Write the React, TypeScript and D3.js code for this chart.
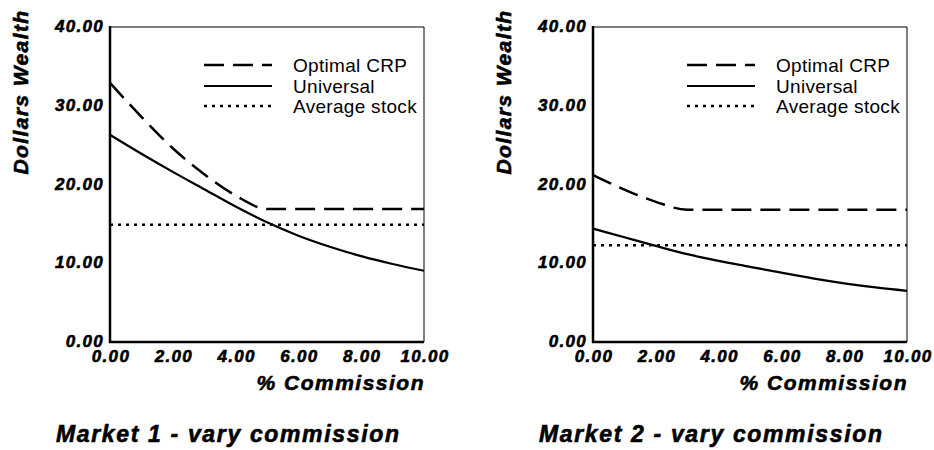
import React from 'react';
import * as d3 from 'd3';

const commission = [0, 1, 2, 3, 4, 5, 6, 7, 8, 9, 10];

// Market 1
const optimalCrp1 = [32.9, 28.6, 24.6, 21.3, 18.6, 16.9, 16.9, 16.9, 16.9, 16.9, 16.9];
const universal1 = [26.3, 23.9, 21.6, 19.4, 17.2, 15.2, 13.5, 12.1, 10.9, 9.9, 9.05];
const avgStock1 = [14.9, 14.9, 14.9, 14.9, 14.9, 14.9, 14.9, 14.9, 14.9, 14.9, 14.9];

// Market 2
const optimalCrp2 = [21.2, 19.35, 17.8, 16.8, 16.8, 16.8, 16.8, 16.8, 16.8, 16.8, 16.8];
const universal2 = [14.4, 13.3, 12.2, 11.15, 10.3, 9.55, 8.8, 8.08, 7.45, 6.93, 6.5];
const avgStock2 = [12.3, 12.3, 12.3, 12.3, 12.3, 12.3, 12.3, 12.3, 12.3, 12.3, 12.3];

const xTicks = [0, 2, 4, 6, 8, 10];
const yTicks = [0, 10, 20, 30, 40];
const legendLabels = ['Optimal CRP', 'Universal', 'Average stock'];
const panelTitles = ['Market 1 - vary commission', 'Market 2 - vary commission'];

const FONT = '"Liberation Sans", Arial, Helvetica, sans-serif';
const W = 934;
const H = 450;

// stroke style per series: optimal, universal, average
const seriesStyle = [
  { dash: '20,9', width: 2.5 },
  { dash: null, width: 2.2 },
  { dash: '3,5', width: 2.5 },
];

// heavy bold-italic look of the original labels
const heavy = {
  fontFamily: FONT,
  fontWeight: 'bold' as const,
  fontStyle: 'italic' as const,
  stroke: '#000',
  strokeWidth: 0.6,
};

type PanelProps = {
  left: number;
  title: string;
  series: number[][];
};

function Panel({ left, title, series }: PanelProps) {
  const plotW = 314;
  const top = 27;
  const bottom = 342;
  const x = d3.scaleLinear().domain([0, 10]).range([left, left + plotW]);
  const y = d3.scaleLinear().domain([0, 40]).range([bottom, top]);

  const line = d3
    .line<number>()
    .x((_, i) => x(commission[i]))
    .y((d) => y(d))
    .curve(d3.curveMonotoneX);

  const legendRows = [65, 86, 106];

  return (
    <g>
      {/* frame: thin top/right, heavy left/bottom */}
      <line x1={left} x2={left + plotW} y1={top} y2={top} stroke="#000" strokeWidth={1} />
      <line x1={left + plotW} x2={left + plotW} y1={top} y2={bottom} stroke="#000" strokeWidth={1} />
      <line x1={left} x2={left} y1={top - 1} y2={bottom + 1} stroke="#000" strokeWidth={2.5} />
      <line x1={left - 1} x2={left + plotW} y1={bottom} y2={bottom} stroke="#000" strokeWidth={2.5} />

      {series.map((s, i) => (
        <path
          key={i}
          d={line(s) || ''}
          fill="none"
          stroke="#000"
          strokeWidth={seriesStyle[i].width}
          strokeDasharray={seriesStyle[i].dash || undefined}
        />
      ))}

      {/* tick labels */}
      {yTicks.map((t) => (
        <text key={'y' + t} x={left - 6} y={y(t) + 5} textAnchor="end" fontSize={17} letterSpacing={1.3} {...heavy}>
          {t.toFixed(2)}
        </text>
      ))}
      {xTicks.map((t) => (
        <text key={'x' + t} x={x(t) + 1} y={362} textAnchor="middle" fontSize={17} letterSpacing={1.3} {...heavy}>
          {t.toFixed(2)}
        </text>
      ))}

      {/* axis titles */}
      <text x={left + plotW + 1} y={390} textAnchor="end" fontSize={21} letterSpacing={1.5} {...heavy}>
        % Commission
      </text>
      <text
        transform={`translate(${left - 82},92) rotate(-90)`}
        textAnchor="middle"
        fontSize={21}
        letterSpacing={1.4}
        {...heavy}
      >
        Dollars Wealth
      </text>

      {/* legend */}
      {legendLabels.map((lab, i) => (
        <g key={lab}>
          <line
            x1={left + 94}
            x2={left + 162}
            y1={legendRows[i]}
            y2={legendRows[i]}
            stroke="#000"
            strokeWidth={seriesStyle[i].width}
            strokeDasharray={seriesStyle[i].dash || undefined}
          />
          <text x={left + 183} y={legendRows[i] + 7} fontFamily={FONT} fontSize={19} letterSpacing={0.3}>
            {lab}
          </text>
        </g>
      ))}

      {/* panel caption */}
      <text x={left - 54} y={442} fontSize={23} letterSpacing={1.65} {...heavy}>
        {title}
      </text>
    </g>
  );
}

export default function App() {
  return (
    <svg
      width={W}
      height={H}
      viewBox={`0 0 ${W} ${H}`}
      style={{ position: 'absolute', left: 0, top: 0, background: '#fff' }}
    >
      <rect width={W} height={H} fill="#fff" />
      <Panel left={110} title={panelTitles[0]} series={[optimalCrp1, universal1, avgStock1]} />
      <Panel left={593} title={panelTitles[1]} series={[optimalCrp2, universal2, avgStock2]} />
    </svg>
  );
}
